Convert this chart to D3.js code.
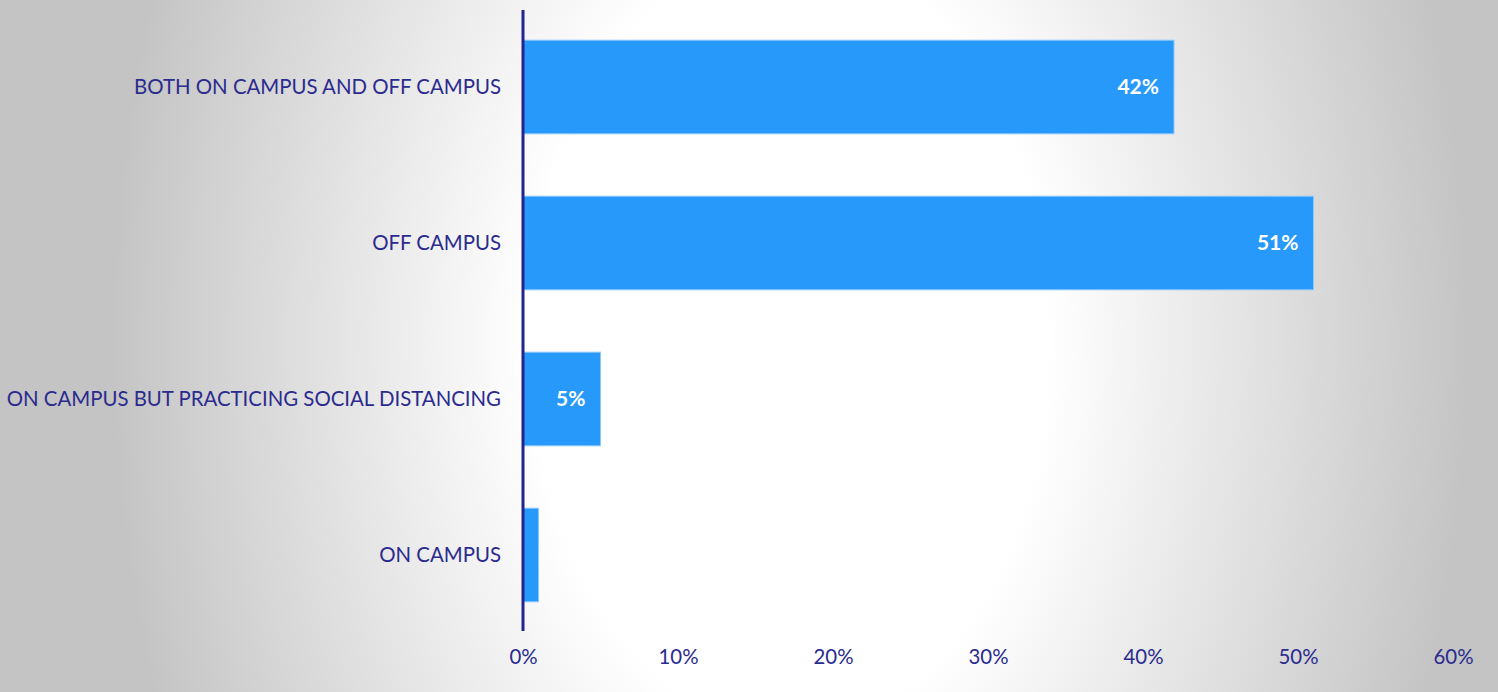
<!DOCTYPE html>
<html><head><meta charset="utf-8">
<script src="https://cdn.jsdelivr.net/npm/d3@7"></script>
<style>html,body{margin:0;padding:0;overflow:hidden;}svg{display:block;}</style>
</head><body>
<svg id="c" width="1498" height="692"></svg>
<script>
const categories = ["BOTH ON CAMPUS AND OFF CAMPUS","OFF CAMPUS","ON CAMPUS BUT PRACTICING SOCIAL DISTANCING","ON CAMPUS"];
const values = [42, 51, 5, 1];
const valueLabels = ["42%","51%","5%",""];
const tickValues = [0,10,20,30,40,50,60];

const W = 1498, H = 692;
const svg = d3.select("#c");
const defs = svg.append("defs");
const rg = defs.append("radialGradient").attr("id","bg").attr("gradientUnits","userSpaceOnUse")
  .attr("cx",790).attr("cy",340).attr("r",680)
  .attr("gradientTransform","translate(790,340) scale(1,1.5) translate(-790,-340)");
rg.append("stop").attr("offset","0").attr("stop-color","#ffffff");
rg.append("stop").attr("offset","0.38").attr("stop-color","#ffffff");
rg.append("stop").attr("offset","1").attr("stop-color","#c4c4c4");
svg.append("rect").attr("width",W).attr("height",H).attr("fill","url(#bg)");

const font = "Lato, 'Open Sans', sans-serif";
const x = d3.scaleLinear().domain([0,60]).range([523,1453]);
const y = d3.scaleBand().domain(categories).range([9,633]).paddingInner(0.4).paddingOuter(0.2);

svg.selectAll("rect.bar").data(categories).join("rect").attr("class","bar")
  .attr("x", x(0)).attr("y", d=>y(d))
  .attr("width", (d,i)=>x(values[i])-x(0)).attr("height", y.bandwidth())
  .attr("fill","#2699fb").attr("stroke","#8cc8fd").attr("stroke-width",1);

svg.selectAll("text.val").data(categories).join("text").attr("class","val")
  .attr("x",(d,i)=>x(values[i])-15).attr("y",d=>y(d)+y.bandwidth()/2)
  .attr("dy","0.35em").attr("text-anchor","end")
  .attr("fill","#fff").attr("font-weight","bold").attr("font-size",21).attr("font-family",font)
  .text((d,i)=>valueLabels[i]);

const yAxis = d3.axisLeft(y).tickSize(0).tickPadding(22);
const gy = svg.append("g").attr("transform",`translate(${x(0)},0)`).call(yAxis);
gy.select(".domain").remove();
gy.selectAll("text").attr("fill","#2b2b8f").attr("font-size",20.4).attr("font-family",font);

svg.append("line").attr("x1",x(0)).attr("x2",x(0)).attr("y1",10).attr("y2",631)
  .attr("stroke","#24248f").attr("stroke-width",3);

const xAxis = d3.axisBottom(x).tickValues(tickValues).tickFormat(d=>d+"%").tickSize(0).tickPadding(0);
const gx = svg.append("g").attr("transform",`translate(0,650)`).call(xAxis);
gx.select(".domain").remove();
gx.selectAll("text").attr("fill","#2b2b8f").attr("font-size",20.4).attr("font-family",font).attr("dy","0.71em");
</script>
</body></html>
